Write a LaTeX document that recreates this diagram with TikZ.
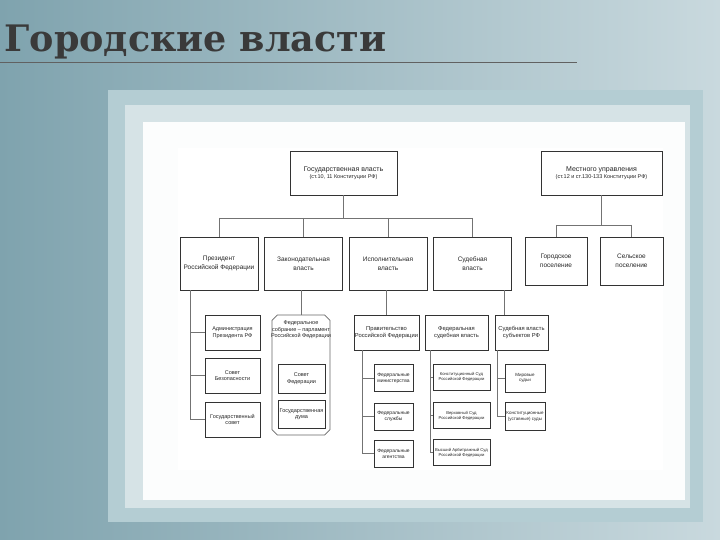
\documentclass[tikz,border=0pt]{standalone}
\usepackage{fontspec}
\setmainfont{Liberation Sans}
\newfontfamily\titlefont{DejaVu Serif}
\usetikzlibrary{shapes.misc}
\definecolor{bgA}{HTML}{7FA3AE}
\definecolor{bgB}{HTML}{C9D9DE}
\definecolor{frameA}{HTML}{B4CDD3}
\definecolor{frameB}{HTML}{D6E3E6}
\definecolor{titlec}{HTML}{3A3A3A}
\tikzset{
 bx/.style={draw=black!80, line width=0.8pt, fill=white, inner sep=1pt, align=center, font=\fontsize{5.5}{6.5}\selectfont, text=black!85},
 ln/.style={draw=black!55, line width=0.6pt}
}
\begin{document}
\begin{tikzpicture}[x=1pt,y=-1pt]
\useasboundingbox (0,0) rectangle (720,540);
\shade[left color=bgA, right color=bgB] (0,0) rectangle (720,540);
\fill[frameA] (108,90) rectangle (703,522);
\fill[frameB] (125,105) rectangle (690,508);
\fill[white!92!frameB] (143,122) rectangle (685,500);
\fill[white] (178,148) rectangle (663,470);
\node[anchor=west, font=\titlefont\bfseries\fontsize{36.5}{38}\selectfont, text=titlec] (title) at (1,42) {Городские власти};
\draw[titlec!80, line width=1pt] (0,63) -- (577,63);
% top
\node[bx, minimum width=107pt, minimum height=44pt] (gov) at (343.5,173) {\fontsize{7}{9}\selectfont Государственная власть\\[1pt] (ст.10, 11 Конституции РФ)};
\node[bx, minimum width=121pt, minimum height=44pt] (loc) at (601.5,173) {\fontsize{7}{9}\selectfont Местного управления\\[1pt] (ст.12 и ст.130-133 Конституции РФ)};
% level 2
\tikzset{l2/.style={bx, minimum width=78pt, minimum height=53pt, font=\fontsize{6.5}{9}\selectfont}}
\node[l2] (pres) at (219,263.5) {Президент\\Российской Федерации};
\node[l2] (leg) at (303.5,263.5) {Законодательная\\власть};
\node[l2] (exe) at (388,263.5) {Исполнительная\\власть};
\node[l2] (jud) at (472.5,263.5) {Судебная\\власть};
\node[l2, minimum width=62pt, minimum height=48pt] (town) at (556,261) {Городское\\поселение};
\node[l2, minimum width=63pt, minimum height=48pt] (vil) at (631.5,261) {Сельское\\поселение};
\coordinate (hL) at (219,218); \coordinate (hR) at (472.5,218);
\draw[ln] (gov.south) -- (gov.south |- hL);
\draw[ln] (hL) -- (hR);
\foreach \n in {pres,leg,exe,jud}{\draw[ln] (\n.north |- hL) -- (\n.north);}
\coordinate (rL) at (556,225); \coordinate (rR) at (631.5,225);
\draw[ln] (loc.south) -- (loc.south |- rL);
\draw[ln] (rL) -- (rR);
\draw[ln] (rL) -- (town.north); \draw[ln] (rR) -- (vil.north);
% president column
\tikzset{l3/.style={bx, minimum width=55pt, minimum height=35pt}}
\node[l3] (adm) at (232.5,332.5) {Администрация\\Президента РФ};
\node[l3] (sov) at (232.5,375.5) {Совет\\Безопасности};
\node[l3] (gs) at (232.5,419.5) {Государственный\\совет};
\coordinate (pv) at (190,290);
\draw[ln] (pv) -- (190,420);
\foreach \n in {adm,sov,gs}{\draw[ln] (pv |- \n.west) -- (\n.west);}
% federal assembly
\node[draw=black!60, line width=0.6pt, chamfered rectangle, chamfered rectangle xsep=2pt, minimum width=58pt, minimum height=120pt, fill=white] (fs) at (301,375) {};
\node[font=\fontsize{5.5}{6.5}\selectfont, align=center, text=black!85] (fst) at (301,330) {Федеральное\\собрание – парламент\\Российской Федерации};
\draw[ln] (fs.north |- leg.south) -- (fs.north);
\node[bx, minimum width=47pt, minimum height=29pt] (sf) at (301.5,378.5) {Совет\\Федерации};
\node[bx, minimum width=47pt, minimum height=28pt] (gd) at (301.5,414) {Государственная\\дума};
% government
\tikzset{l3b/.style={bx, minimum width=63pt, minimum height=35pt, font=\fontsize{5.8}{7}\selectfont}}
\node[l3b] (govt) at (386.5,332.5) {Правительство\\Российской Федерации};
\node[l3b] (fsv) at (456.5,332.5) {Федеральная\\судебная власть};
\node[l3b, minimum width=53pt] (ssub) at (521.5,332.5) {Судебная власть\\субъектов РФ};
\draw[ln] (govt.north |- exe.south) -- (govt.north);
\coordinate (sj) at (504,290);
\draw[ln] (sj) -- (sj |- ssub.north);
\tikzset{l4/.style={bx, minimum width=39pt, minimum height=27pt, font=\fontsize{5}{6}\selectfont}}
\node[l4] (fm) at (393.5,378) {Федеральные\\министерства};
\node[l4] (fsl) at (393.5,416.5) {Федеральные\\службы};
\node[l4] (fa) at (393.5,453.5) {Федеральные\\агентства};
\coordinate (gv) at (362,350);
\draw[ln] (gv) -- (362,454);
\foreach \n in {fm,fsl,fa}{\draw[ln] (gv |- \n.west) -- (\n.west);}
\tikzset{l4c/.style={bx, minimum width=57pt, minimum height=26pt, font=\fontsize{4.2}{5.2}\selectfont}}
\node[l4c] (ks) at (461.5,377) {Конституционный Суд\\Российской Федерации};
\node[l4c] (vs) at (461.5,415.5) {Верховный Суд\\Российской Федерации};
\node[l4c] (vas) at (461.5,452.5) {Высший Арбитражный Суд\\Российской Федерации};
\coordinate (jv) at (430,350);
\draw[ln] (jv) -- (430,453);
\foreach \n in {ks,vs,vas}{\draw[ln] (jv |- \n.west) -- (\n.west);}
\tikzset{l4d/.style={bx, minimum width=40pt, minimum height=28pt, font=\fontsize{4.5}{5.5}\selectfont}}
\node[l4d] (mir) at (525,378) {Мировые\\судьи};
\node[l4d] (kus) at (525,416.5) {Конституционные\\(уставные) суды};
\coordinate (sv) at (497,350);
\draw[ln] (sv) -- (497,417);
\foreach \n in {mir,kus}{\draw[ln] (sv |- \n.west) -- (\n.west);}
\end{tikzpicture}
\end{document}
